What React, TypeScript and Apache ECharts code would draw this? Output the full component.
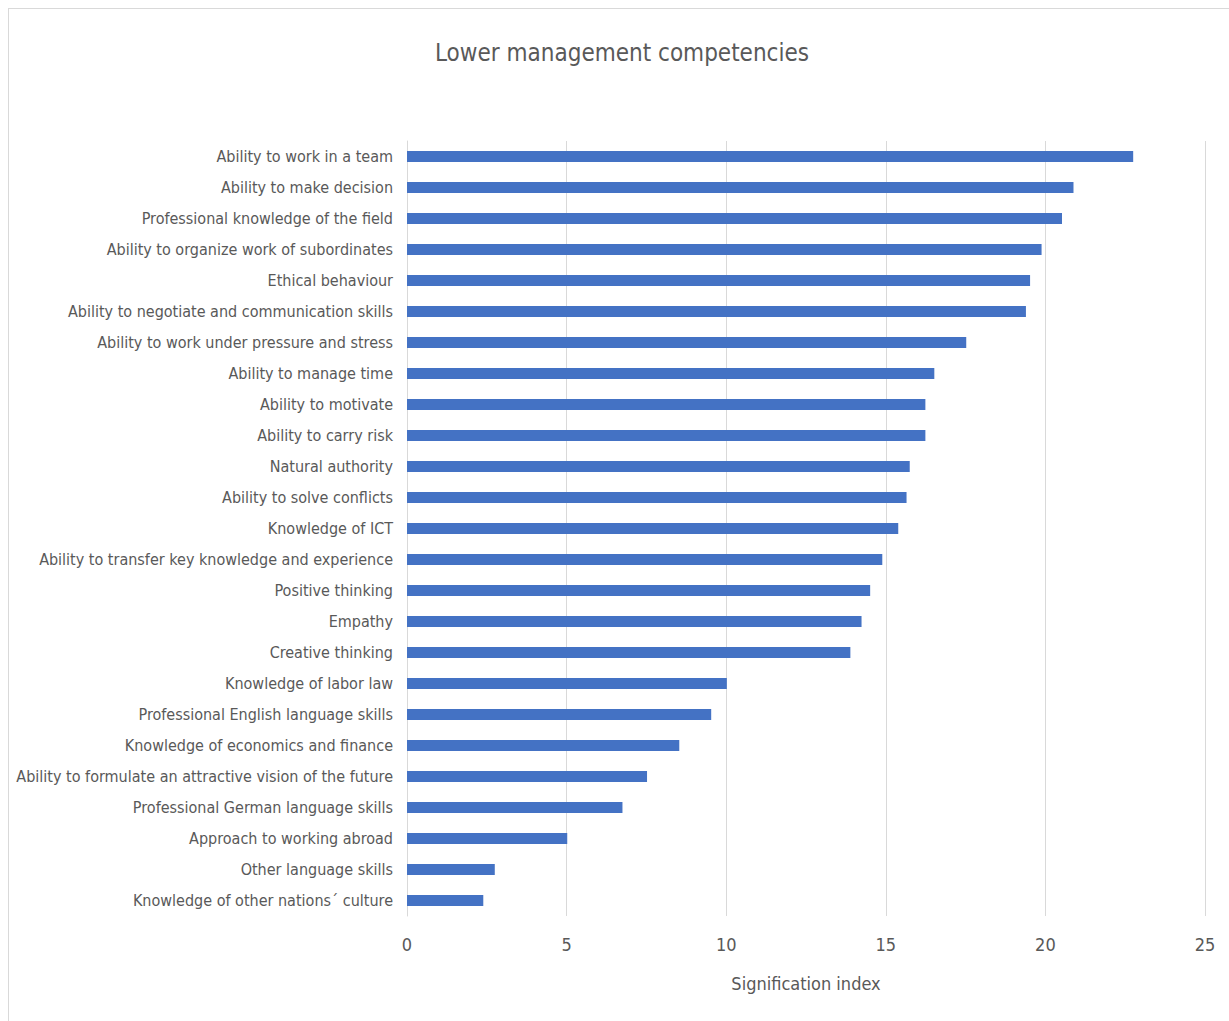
import React, { useEffect, useRef } from "react";
import * as echarts from "echarts";

const categories: string[] = [
  "Ability to work in a team",
  "Ability to make decision",
  "Professional knowledge of the field",
  "Ability to organize work of subordinates",
  "Ethical behaviour",
  "Ability to negotiate and communication skills",
  "Ability to work under pressure and stress",
  "Ability to manage time",
  "Ability to motivate",
  "Ability to carry risk",
  "Natural authority",
  "Ability to solve conflicts",
  "Knowledge of ICT",
  "Ability to transfer key knowledge and experience",
  "Positive thinking",
  "Empathy",
  "Creative thinking",
  "Knowledge of labor law",
  "Professional English language skills",
  "Knowledge of economics and finance",
  "Ability to formulate an attractive vision of the future",
  "Professional German language skills",
  "Approach to working abroad",
  "Other language skills",
  "Knowledge of other nations\u00b4 culture",
];

const values: number[] = [
  22.75, 20.88, 20.52, 19.88, 19.52, 19.39, 17.52, 16.52, 16.24, 16.24, 15.75,
  15.65, 15.39, 14.89, 14.51, 14.24, 13.89, 10.02, 9.53, 8.53, 7.52, 6.75, 5.02,
  2.75, 2.39,
];

const xTicks = { min: 0, max: 25, interval: 5 };
const title = "Lower management competencies";
const xAxisName = "Signification index";

const FONT = "'DejaVu Sans Condensed', 'Liberation Sans Narrow', 'Noto Sans', sans-serif";
const TEXT = "#595959";
const GRID = "#d9d9d9";

export default function App() {
  const ref = useRef<HTMLDivElement>(null);
  useEffect(() => {
    if (!ref.current) return;
    const chart = echarts.init(ref.current, null, { renderer: "svg" });
    chart.setOption({
      animation: false,
      backgroundColor: "#ffffff",
      title: {
        text: title,
        left: 617,
        top: 36,
        textAlign: "center",
        textStyle: { fontFamily: FONT, fontSize: 24, fontWeight: "normal", color: TEXT },
      },
      graphic: [
        { type: "line", shape: { x1: 8.5, y1: 8, x2: 8.5, y2: 1021 }, style: { stroke: GRID, lineWidth: 1 } },
        { type: "line", shape: { x1: 8, y1: 8.5, x2: 1229, y2: 8.5 }, style: { stroke: GRID, lineWidth: 1 } },
      ],
      grid: { left: 407, right: 24, top: 141, bottom: 105, containLabel: false, outerBoundsMode: "none" },
      xAxis: {
        type: "value",
        min: xTicks.min,
        max: xTicks.max,
        interval: xTicks.interval,
        name: xAxisName,
        nameLocation: "middle",
        nameGap: 58,
        nameTextStyle: { fontFamily: FONT, fontSize: 18, color: TEXT },
        axisLine: { show: false },
        axisTick: { show: false },
        axisLabel: { fontFamily: FONT, fontSize: 18, color: TEXT, margin: 19 },
        splitLine: { show: true, lineStyle: { color: GRID, width: 1 } },
      },
      yAxis: {
        type: "category",
        inverse: true,
        data: categories,
        axisLine: { show: true, lineStyle: { color: GRID, width: 1 } },
        axisTick: { show: false },
        axisLabel: { fontFamily: FONT, fontSize: 16, color: TEXT, margin: 14 },
      },
      series: [
        {
          type: "bar",
          data: values,
          barWidth: 11,
          itemStyle: { color: "#4472C4" },
        },
      ],
    });
    return () => chart.dispose();
  }, []);
  return (
    <div
      ref={ref}
      style={{ position: "fixed", left: 0, top: 0, width: 1229, height: 1021 }}
    />
  );
}
